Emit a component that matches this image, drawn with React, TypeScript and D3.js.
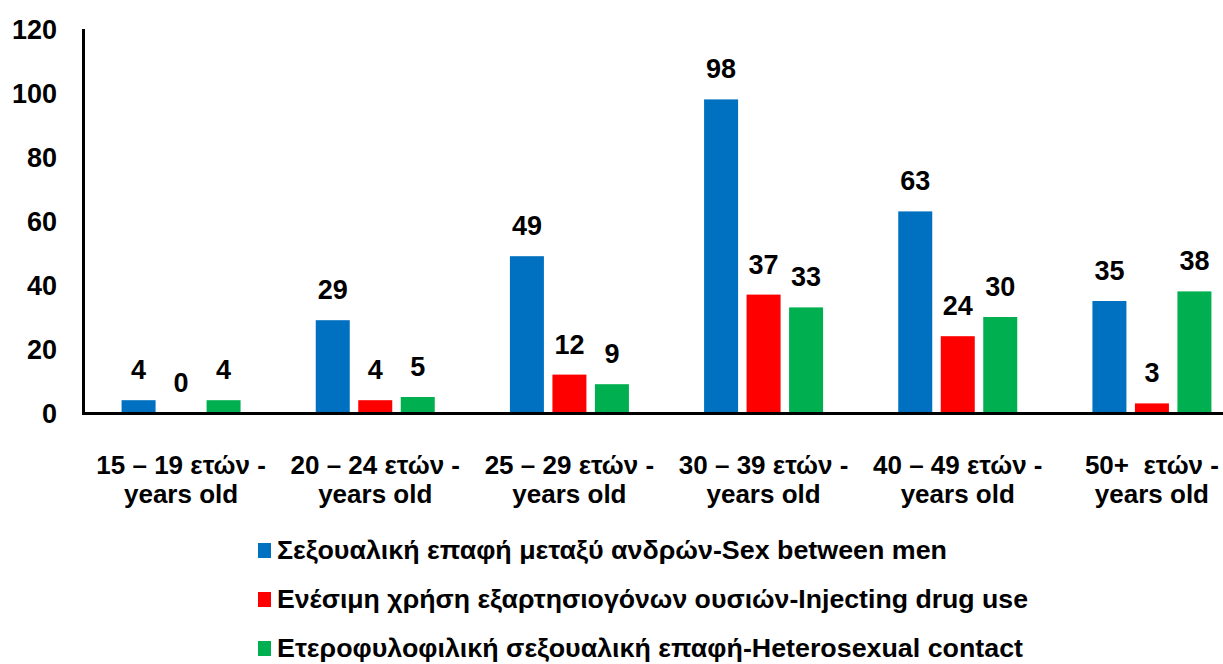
import React from "react";
import * as d3 from "d3";

const categoriesLine1 = ["15 – 19 ετών -", "20 – 24 ετών -", "25 – 29 ετών -", "30 – 39 ετών -", "40 – 49 ετών -", "50+  ετών -"];
const categoriesLine2 = ["years old", "years old", "years old", "years old", "years old", "years old"];
const seriesNames = [
  "Σεξουαλική επαφή μεταξύ ανδρών-Sex between men",
  "Ενέσιμη χρήση εξαρτησιογόνων ουσιών-Injecting drug use",
  "Ετεροφυλοφιλική σεξουαλική επαφή-Heterosexual contact",
];
const sexBetweenMen = [4, 29, 49, 98, 63, 35];
const injectingDrugUse = [0, 4, 12, 37, 24, 3];
const heterosexualContact = [4, 5, 9, 33, 30, 38];
const yTicks = [0, 20, 40, 60, 80, 100, 120];

const colors = ["#0070C0", "#FF0000", "#00B050"];
const legendWidths = [670, 751, 746];

const W = 1223;
const H = 664;
const FONT = "'Liberation Sans', Arial, sans-serif";

export default function App() {
  const seriesValues = [sexBetweenMen, injectingDrugUse, heterosexualContact];
  const x0 = d3.scaleBand<number>().domain(d3.range(categoriesLine1.length)).range([84, 1249]).padding(0);
  const step = x0.bandwidth();
  const barW = 34;
  const innerStep = 42.5;
  const halfSpan = innerStep + barW / 2;
  const x1 = d3
    .scaleBand<number>()
    .domain([0, 1, 2])
    .range([step / 2 - halfSpan, step / 2 + halfSpan])
    .paddingInner(0.2)
    .paddingOuter(0);
  const y = d3.scaleLinear().domain([0, 120]).range([413, 29]);
  const bw = x1.bandwidth();

  return (
    <svg width={W} height={H} style={{ position: "absolute", left: 0, top: 0, background: "#fff" }} fontFamily={FONT} fontWeight="bold">
      <rect x={0} y={0} width={W} height={H} fill="#fff" />
      {yTicks.map((t) => (
        <text key={t} x={57} y={y(t) + 10} textAnchor="end" fontSize={27} fill="#000">
          {t}
        </text>
      ))}
      {seriesValues.map((vals, si) =>
        vals.map((v, ci) => {
          const bx = (x0(ci) as number) + (x1(si) as number);
          return (
            <g key={`${si}-${ci}`}>
              {v > 0 && <rect x={bx} y={y(v)} width={bw} height={y(0) - y(v)} fill={colors[si]} />}
              <text x={bx + bw / 2} y={y(v) - 21} textAnchor="middle" fontSize={27} fill="#000">
                {v}
              </text>
            </g>
          );
        })
      )}
      <line x1={83.5} x2={83.5} y1={29} y2={415} stroke="#000" strokeWidth={3} />
      <line x1={82} x2={W} y1={413.5} y2={413.5} stroke="#000" strokeWidth={3} />
      {categoriesLine1.map((c, i) => {
        const cx = (x0(i) as number) + step / 2;
        return (
          <g key={c}>
            <text x={cx} y={474} textAnchor="middle" fontSize={26} fill="#000" style={{ whiteSpace: "pre" }}>
              {c}
            </text>
            <text x={cx} y={503} textAnchor="middle" fontSize={26} fill="#000">
              {categoriesLine2[i]}
            </text>
          </g>
        );
      })}
      {seriesNames.map((n, i) => (
        <g key={n}>
          <rect x={258} y={543 + i * 49} width={13} height={15} fill={colors[i]} />
          <text x={277} y={559 + i * 49} fontSize={26} fill="#000" textLength={legendWidths[i]} lengthAdjust="spacingAndGlyphs">
            {n}
          </text>
        </g>
      ))}
    </svg>
  );
}
